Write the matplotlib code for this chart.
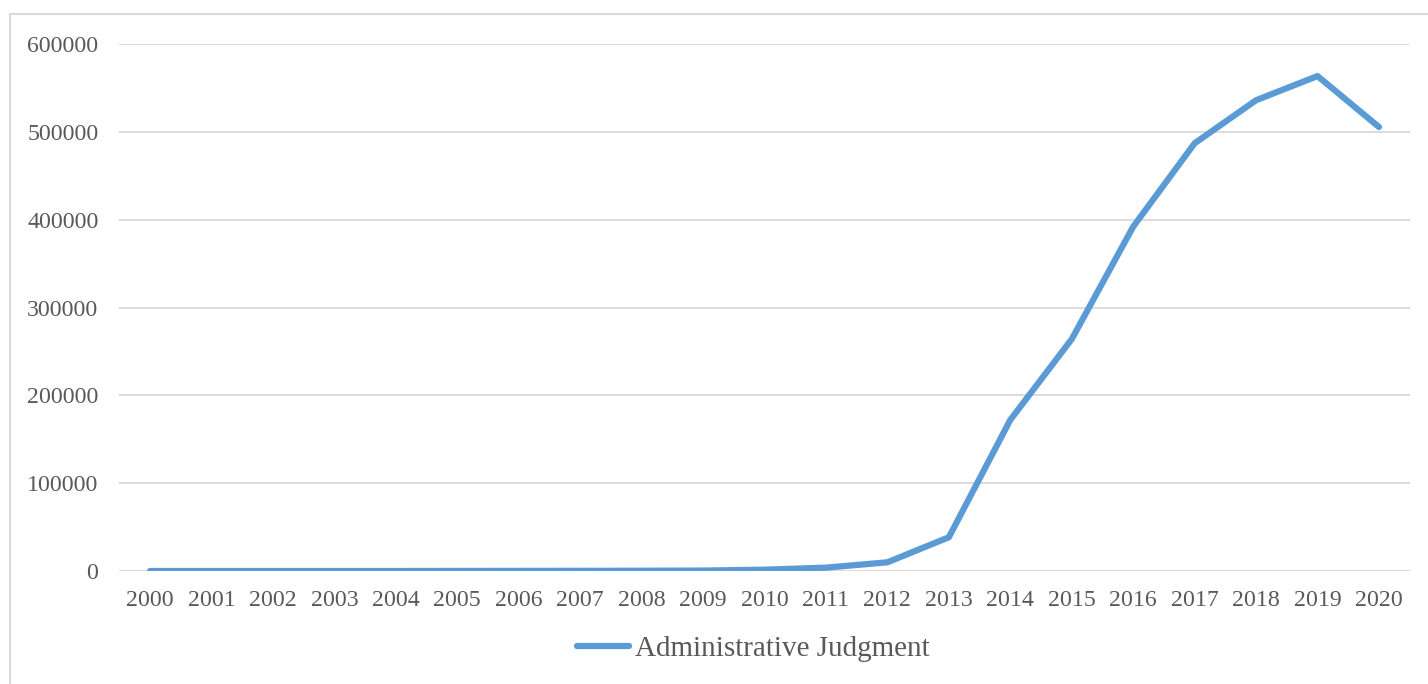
import matplotlib
matplotlib.use("Agg")
import matplotlib.pyplot as plt
from matplotlib.patches import Rectangle

years = [str(y) for y in range(2000, 2021)]
values = [0, 0, 0, 0, 0, 100, 150, 200, 300, 500, 1500, 3800, 9900, 38400,
          172000, 264000, 392000, 487000, 536000, 563500, 505500]
series_name = "Administrative Judgment"
yticks = [0, 100000, 200000, 300000, 400000, 500000, 600000]

W, H = 1428, 684
fig = plt.figure(figsize=(W / 100, H / 100), dpi=100)
fig.patch.set_facecolor("white")

# chart border
fig.patches.append(Rectangle((10 / W, -0.01), 1.1, (H - 14) / H + 0.01,
                             transform=fig.transFigure, fill=False,
                             edgecolor="#d9d9d9", linewidth=1.5))

left, right, top, bottom = 119.3, 1409.7, 44, 571
ax = fig.add_axes([left / W, (H - bottom) / H, (right - left) / W, (bottom - top) / H])
ax.set_facecolor("none")
x = list(range(len(years)))
line, = ax.plot(x, values, color="#5b9bd5", linewidth=4.5,
                solid_capstyle="round", solid_joinstyle="round", zorder=3)
ax.set_xlim(-0.5, len(years) - 0.5)
ax.set_ylim(0, 600000)
ax.set_yticks(yticks)
ax.set_yticklabels([str(v) for v in yticks])
ax.set_xticks(x)
ax.set_xticklabels(years)
for s in ax.spines.values():
    s.set_visible(False)
ax.grid(axis="y", color="#d9d9d9", linewidth=1.3, zorder=0)
ax.tick_params(length=0, labelsize=17.2, labelcolor="#595959", colors="#595959")
ax.tick_params(axis="y", pad=15)
ax.tick_params(axis="x", pad=14)
for lab in ax.get_xticklabels() + ax.get_yticklabels():
    lab.set_fontfamily("Liberation Serif")

leg = fig.legend([line], [series_name], loc="center",
                 bbox_to_anchor=(753 / W, (H - 649) / H), frameon=False,
                 prop={"family": "Liberation Serif", "size": 21},
                 handlelength=1.8, handletextpad=0.2, labelcolor="#595959")

fig.savefig("out.png", dpi=100)
